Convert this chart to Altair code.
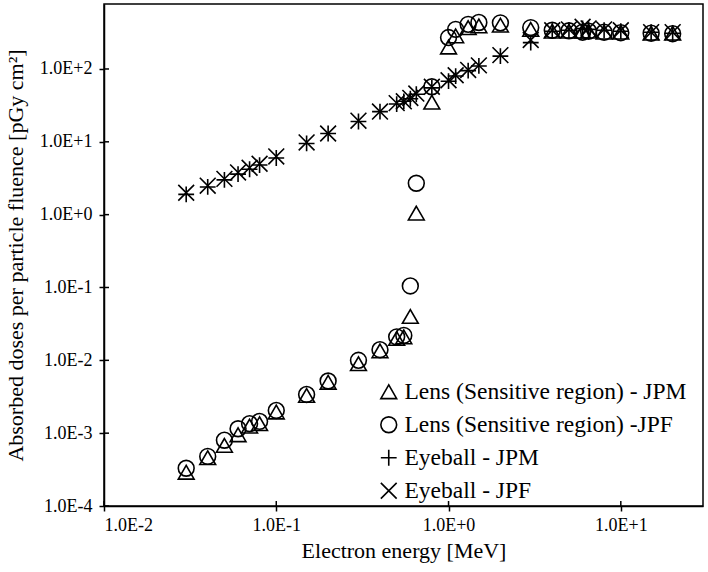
import altair as alt
import pandas as pd

# Electron energies [MeV]
energy = [0.03, 0.04, 0.05, 0.06, 0.07, 0.08, 0.1, 0.15, 0.2, 0.3, 0.4, 0.5, 0.55,
          0.6, 0.65, 0.8, 1.0, 1.1, 1.3, 1.5, 2, 3, 4, 5, 6, 6.5, 8, 10, 15, 20]

# Absorbed dose per particle fluence [pGy cm^2]
lens_jpm = [2.9e-4, 4.6e-4, 6.8e-4, 9.5e-4, 1.25e-3, 1.35e-3, 1.95e-3, 3.3e-3, 5.0e-3,
            9.0e-3, 1.35e-2, 2.0e-2, 2.1e-2, 4.0e-2, 1.05, 35, 200, 285, 370, 390,
            400, 350, 330, 330, 330, 330, 320, 320, 310, 310]
lens_jpf = [3.3e-4, 4.8e-4, 8.0e-4, 1.15e-3, 1.35e-3, 1.45e-3, 2.05e-3, 3.4e-3, 5.2e-3,
            1.0e-2, 1.4e-2, 2.1e-2, 2.2e-2, 0.105, 2.7, 57, 270, 350, 410, 435,
            430, 370, 340, 335, 320, 330, 320, 315, 310, 305]
eye_jpm = [1.9, 2.4, 3.0, 3.6, 4.2, 4.8, 6.0, 9.5, 13, 19, 26, 33, 36, 39, 45, 55, 68,
           80, 95, 110, 150, 230, 330, 340, 360, 350, 340, 330, 320, 310]
eye_jpf = [2.0, 2.5, 3.1, 3.8, 4.4, 5.0, 6.3, 9.8, 13, 19.5, 26, 34, 36, 40, 46, 57, 70,
           82, 97, 112, 155, 250, 340, 350, 380, 360, 350, 340, 320, 320]

series_names = ["Lens (Sensitive region) - JPM", "Lens (Sensitive region) -JPF",
                "Eyeball - JPM", "Eyeball - JPF"]
series_values = [lens_jpm, lens_jpf, eye_jpm, eye_jpf]

x_ticks = [0.01, 0.1, 1, 10]
y_ticks = [1e-4, 1e-3, 1e-2, 1e-1, 1, 10, 100]

rows = []
for name, vals in zip(series_names, series_values):
    for e, v in zip(energy, vals):
        rows.append({"energy": e, "dose": v, "series": name})
df = pd.DataFrame(rows)

FONT = "Liberation Serif"
W, H = 599, 502
TICK = 5

PLUS = "M-1,0L1,0M0,-1L0,1"
CROSS = "M-1,-1L1,1M-1,1L1,-1"

sci_label = ("'1.0E' + (round(log(datum.value)/LN10) >= 0 ? '+' : '') "
             "+ round(log(datum.value)/LN10)")

x_scale = alt.Scale(type="log", domain=[0.01, 30], nice=False)
y_scale = alt.Scale(type="log", domain=[1e-4, 780], nice=False)

common_axis = dict(
    domainColor="black", domainWidth=1.5, tickColor="black", tickWidth=1.5,
    tickSize=TICK, labelFont=FONT, labelFontSize=18, labelColor="black",
    titleFont=FONT, titleFontSize=22, titleFontWeight="normal", titleColor="black",
    grid=False,
)

x_enc = alt.X("energy:Q", scale=x_scale,
              axis=alt.Axis(values=x_ticks, labelExpr=sci_label,
                            title="Electron energy [MeV]", labelPadding=5,
                            titleY=34, titleBaseline="top", **common_axis))
y_enc = alt.Y("dose:Q", scale=y_scale,
              axis=alt.Axis(values=y_ticks, labelExpr=sci_label,
                            title="Absorbed doses per particle fluence [pGy cm²]",
                            labelPadding=7, titleX=-89, titleY=H / 2,
                            titleAngle=-90, titleAlign="center",
                            titleBaseline="middle", **common_axis))

points = alt.Chart(df).mark_point(
    filled=False, color="black", strokeWidth=1.6, size=250, opacity=1
).encode(
    x=x_enc,
    y=y_enc,
    shape=alt.Shape(
        "series:N",
        scale=alt.Scale(domain=series_names,
                        range=["triangle-up", "circle", PLUS, CROSS]),
        legend=alt.Legend(
            title=None, orient="none", legendX=273, legendY=376, padding=0,
            labelFont=FONT, labelFontSize=23.5, labelColor="black", labelLimit=400,
            labelOffset=4, rowPadding=8, symbolSize=250,
            symbolStrokeColor="black", symbolStrokeWidth=1.6,
            symbolFillColor="transparent",
        ),
    ),
)

# inward halves of the crossing tick marks
x_inner = alt.Chart(pd.DataFrame({"energy": x_ticks})).mark_rule(
    color="black", strokeWidth=1.5
).encode(
    x=x_enc,
    y=alt.value(H), y2=alt.value(H - TICK),
)
y_inner = alt.Chart(pd.DataFrame({"dose": y_ticks})).mark_rule(
    color="black", strokeWidth=1.5
).encode(
    y=y_enc,
    x=alt.value(0), x2=alt.value(TICK),
)

chart = alt.layer(points, x_inner, y_inner).properties(
    width=W, height=H,
    padding={"left": 104, "top": 4, "right": 5, "bottom": 66},
    autosize=alt.AutoSizeParams(type="none"),
    background="white",
).configure_view(
    stroke="black", strokeWidth=1.5
)

chart.save("out.html", embed_options={"renderer": "svg", "actions": False})
